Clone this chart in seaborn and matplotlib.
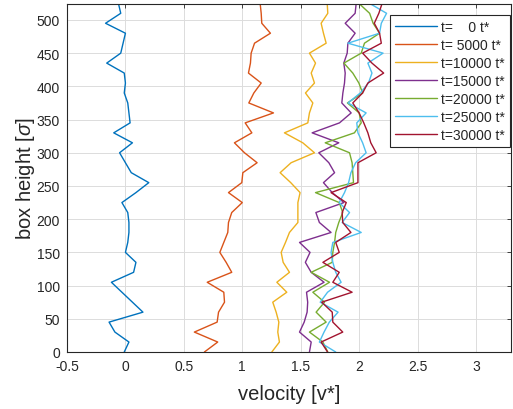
import numpy as np
import pandas as pd
import matplotlib
matplotlib.use("Agg")
import matplotlib.pyplot as plt
import seaborn as sns

# Sampling heights across the box (sigma units)
heights = list(range(0, 526, 15))

# Time labels for each velocity profile
time_labels = ["t=    0 t*", "t= 5000 t*", "t=10000 t*", "t=15000 t*",
               "t=20000 t*", "t=25000 t*", "t=30000 t*"]

# Velocity profiles (v*), from the bottom of the box to the top
v_t0 = [-0.01, 0.03, -0.09, -0.14, 0.15, 0.06, -0.03, -0.12, 0.07, 0.09,
        0.00, 0.02, 0.03, 0.03, 0.02, -0.03, 0.09, 0.20, 0.05, 0.00,
        -0.05, 0.06, -0.10, 0.04, 0.03, 0.02, -0.01, 0.00, -0.01, -0.16,
        -0.04, -0.02, 0.00, -0.17, -0.04, -0.06]
v_t5000 = [0.676, 0.79, 0.59, 0.785, 0.797, 0.848, 0.842, 0.70, 0.91, 0.862,
           0.808, 0.842, 0.876, 0.882, 0.91, 1.00, 0.882, 0.996, 1.005, 1.127,
           1.019, 0.933, 1.082, 1.025, 1.267, 1.056, 1.099, 1.162, 1.053, 1.07,
           1.076, 1.105, 1.241, 1.167, 1.162, 1.153]
v_t10000 = [1.253, 1.318, 1.304, 1.313, 1.29, 1.261, 1.381, 1.296, 1.404, 1.35,
            1.333, 1.37, 1.404, 1.476, 1.476, 1.476, 1.495, 1.415, 1.324, 1.418,
            1.618, 1.518, 1.361, 1.561, 1.575, 1.604, 1.541, 1.618, 1.59, 1.627,
            1.575, 1.718, 1.695, 1.675, 1.732, 1.727]
v_t15000 = [1.575, 1.59, 1.49, 1.53, 1.555, 1.56, 1.55, 1.70, 1.59, 1.54,
            1.58, 1.49, 1.76, 1.66, 1.63, 1.87, 1.77, 1.695, 1.79, 1.741,
            1.655, 1.826, 1.598, 1.832, 1.932, 1.852, 1.861, 1.875, 1.881, 1.869,
            1.898, 1.904, 1.966, 1.881, 1.966, 1.975]
v_t20000 = [1.732, 1.69, 1.575, 1.718, 1.632, 1.704, 1.604, 1.747, 1.59, 1.77,
            1.775, 1.79, 1.80, 1.826, 1.86, 1.83, 1.627, 1.952, 1.946, 1.94,
            1.918, 1.71, 1.96, 2.018, 2.00, 1.90, 2.03, 1.998, 1.946, 1.87,
            2.018, 2.046, 2.175, 2.12, 2.09, 1.998]
v_t25000 = [1.80, 1.66, 1.70, 1.745, 1.82, 1.667, 1.73, 1.846, 1.80, 1.775,
            1.76, 1.775, 2.018, 1.855, 1.918, 1.83, 1.875, 1.91, 1.93, 1.97,
            2.06, 2.03, 1.99, 1.98, 2.06, 1.905, 2.01, 2.08, 2.11, 2.075,
            2.205, 1.904, 2.175, 2.19, 2.235, 2.089]
v_t30000 = [1.73, 1.675, 1.86, 1.775, 1.77, 1.68, 1.94, 1.775, 1.83, 1.69,
            1.83, 1.80, 1.93, 1.86, 1.855, 1.89, 1.76, 1.99, 1.99, 1.99,
            2.146, 2.10, 2.075, 2.04, 2.00, 1.946, 2.03, 2.075, 2.21, 2.11,
            2.03, 2.19, 2.175, 2.13, 2.169, 2.197]

profiles = [v_t0, v_t5000, v_t10000, v_t15000, v_t20000, v_t25000, v_t30000]

x_ticks = [-0.5, 0, 0.5, 1, 1.5, 2, 2.5, 3]
x_tick_labels = ["-0.5", "0", "0.5", "1", "1.5", "2", "2.5", "3"]
y_ticks = list(range(0, 501, 50))

colors = ["#0072BD", "#D95319", "#EDB120", "#7E2F8E",
          "#77AC30", "#4DBEEE", "#A2142F"]

# Long-form table for seaborn
frames = []
for label, vel in zip(time_labels, profiles):
    frames.append(pd.DataFrame({"velocity": vel, "height": heights, "time": label}))
df = pd.concat(frames, ignore_index=True)

sns.set_style("white")
plt.rcParams["font.family"] = ["Liberation Sans", "DejaVu Sans"]
plt.rcParams["mathtext.fontset"] = "custom"
plt.rcParams["mathtext.it"] = "Liberation Sans:italic"

fig = plt.figure(figsize=(5.13, 4.10), dpi=100)
ax = fig.add_axes([67 / 513, 57 / 410, 444 / 513, 348 / 410])

sns.lineplot(data=df, x="velocity", y="height", hue="time",
             hue_order=time_labels, palette=colors, sort=False,
             estimator=None, linewidth=1.0, ax=ax)

ax.set_xlim(-0.5, 3.3)
ax.set_ylim(0, 524)
ax.set_xticks(x_ticks)
ax.set_xticklabels(x_tick_labels)
ax.set_yticks(y_ticks)

ink = "#262626"
ax.grid(True, color="#dcdcdc", linewidth=0.7)
ax.set_axisbelow(True)
for side in ["left", "right", "top", "bottom"]:
    ax.spines[side].set_visible(True)
    ax.spines[side].set_color(ink)
    ax.spines[side].set_linewidth(0.8)
ax.tick_params(direction="in", length=3.2, width=0.6, colors=ink,
               labelsize=10, top=True, right=True, pad=5)

ax.set_xlabel("velocity [v*]", fontsize=14.5, color=ink, labelpad=8)
ax.set_ylabel(r"box height [$\sigma$]", fontsize=14.5, color=ink, labelpad=0)

handles, labels = ax.get_legend_handles_labels()
leg = ax.legend(handles, labels, loc="upper right", fontsize=10,
                frameon=True, fancybox=False, framealpha=1.0,
                edgecolor=ink, handlelength=3.0, handletextpad=0.3,
                labelspacing=0.28, borderpad=0.35, borderaxespad=0.0,
                bbox_to_anchor=(0.997, 0.967))
leg.get_frame().set_linewidth(0.8)
for line in leg.get_lines():
    line.set_linewidth(1.0)

fig.savefig("out.png", dpi=100)
